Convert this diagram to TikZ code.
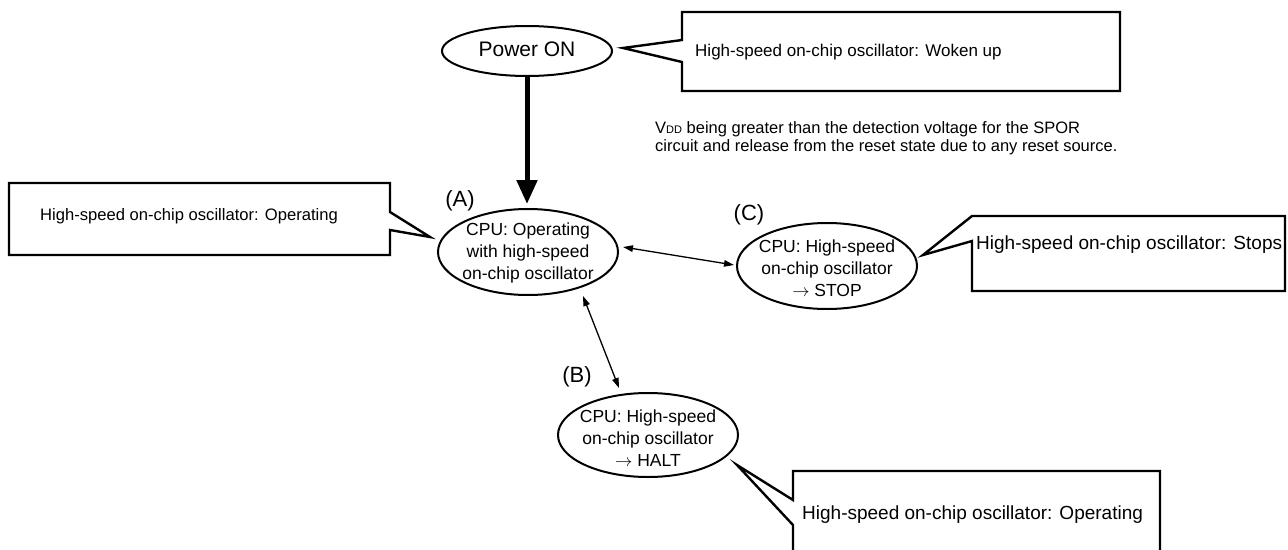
\documentclass[tikz,border=0pt]{standalone}
\usepackage{fontspec}
\setmainfont{Liberation Sans}
\usetikzlibrary{arrows.meta,shapes.geometric}
\tikzset{
  stateell/.style={draw, ellipse, line width=2pt, inner sep=0pt, minimum width=180pt, minimum height=86pt},
  ellitext/.style={align=center, font=\fontsize{17.5}{22}\selectfont, inner sep=0pt},
  callout/.style={draw, line width=2.4pt, line join=miter},
  caltext/.style={anchor=west, inner sep=0pt},
  tag/.style={font=\fontsize{22}{24}\selectfont, inner sep=0pt},
  thinarrow/.style={line width=1.3pt, {Triangle[length=10pt,width=6.5pt]}-{Triangle[length=10pt,width=6.5pt]}},
}
\begin{document}
\begin{tikzpicture}[x=1pt,y=-1pt]
\useasboundingbox (0,0) rectangle (1288,549);
% Power ON
\node[draw, ellipse, line width=2pt, inner sep=0pt, minimum width=170pt, minimum height=50pt] (pwr) at (527,51) {};
\node[font=\fontsize{21}{24}\selectfont, inner sep=0pt] (pwrt) at (527,49) {Power ON};
% states
\node[stateell] (A) at (528,252) {};
\node[ellitext] (At) at (528,253) {CPU: Operating\\with high-speed\\on-chip oscillator};
\node[stateell] (C) at (827,266) {};
\node[ellitext] (Ct) at (827,268) {CPU: High-speed\\on-chip oscillator\\$\rightarrow$ STOP};
\node[stateell, minimum height=84pt] (B) at (648,435) {};
\node[ellitext] (Bt) at (648,438) {CPU: High-speed\\on-chip oscillator\\$\rightarrow$ HALT};
\node[tag] (tA) at (460,201) {(A)};
\node[tag] (tB) at (577,377) {(B)};
\node[tag] (tC) at (749,215) {(C)};
% thick arrow
\coordinate (pwrS) at (527,76);
\coordinate (Atop) at (527,204);
\draw[line width=5pt, -{Triangle[length=24pt,width=20pt]}] (pwrS) -- (Atop);
% thin arrows
\coordinate (ac1) at (623,247);
\coordinate (ac2) at (734,265);
\draw[thinarrow] (ac1) -- (ac2);
\coordinate (ab1) at (583,296);
\coordinate (ab2) at (619,388);
\draw[thinarrow] (ab1) -- (ab2);
% callouts
\draw[callout] (682,12) -- (1120,12) -- (1120,91) -- (682,91) -- (682,62) -- (623,48) -- (682,40) -- cycle;
\node[caltext, font=\fontsize{17}{20}\selectfont] (wk) at (695,52) {High-speed on-chip oscillator: Woken up};
\draw[callout] (9,183) -- (390,183) -- (390,212) -- (430,237) -- (390,230) -- (390,255) -- (9,255) -- cycle;
\node[caltext, font=\fontsize{16.6}{20}\selectfont] (lt) at (40,216) {High-speed on-chip oscillator: Operating};
\draw[callout] (972,216) -- (1285,216) -- (1285,291) -- (972,291) -- (972,241) -- (923,255) -- cycle;
\node[caltext, font=\fontsize{19}{22}\selectfont] (st) at (976,245) {High-speed on-chip oscillator: Stops};
\draw[callout] (793,552) -- (793,525) -- (737,465) -- (793,500) -- (793,471) -- (1160,471) -- (1160,552);
\node[caltext, font=\fontsize{19}{22}\selectfont] (bt) at (802,515) {High-speed on-chip oscillator: Operating};
% VDD text
\node[anchor=west, align=left, inner sep=0pt, font=\fontsize{16.5}{18.5}\selectfont] (vdd) at (655,138)
  {V{\fontsize{11}{11}\selectfont DD} being greater than the detection voltage for the SPOR\\circuit and release from the reset state due to any reset source.};
\end{tikzpicture}
\end{document}
